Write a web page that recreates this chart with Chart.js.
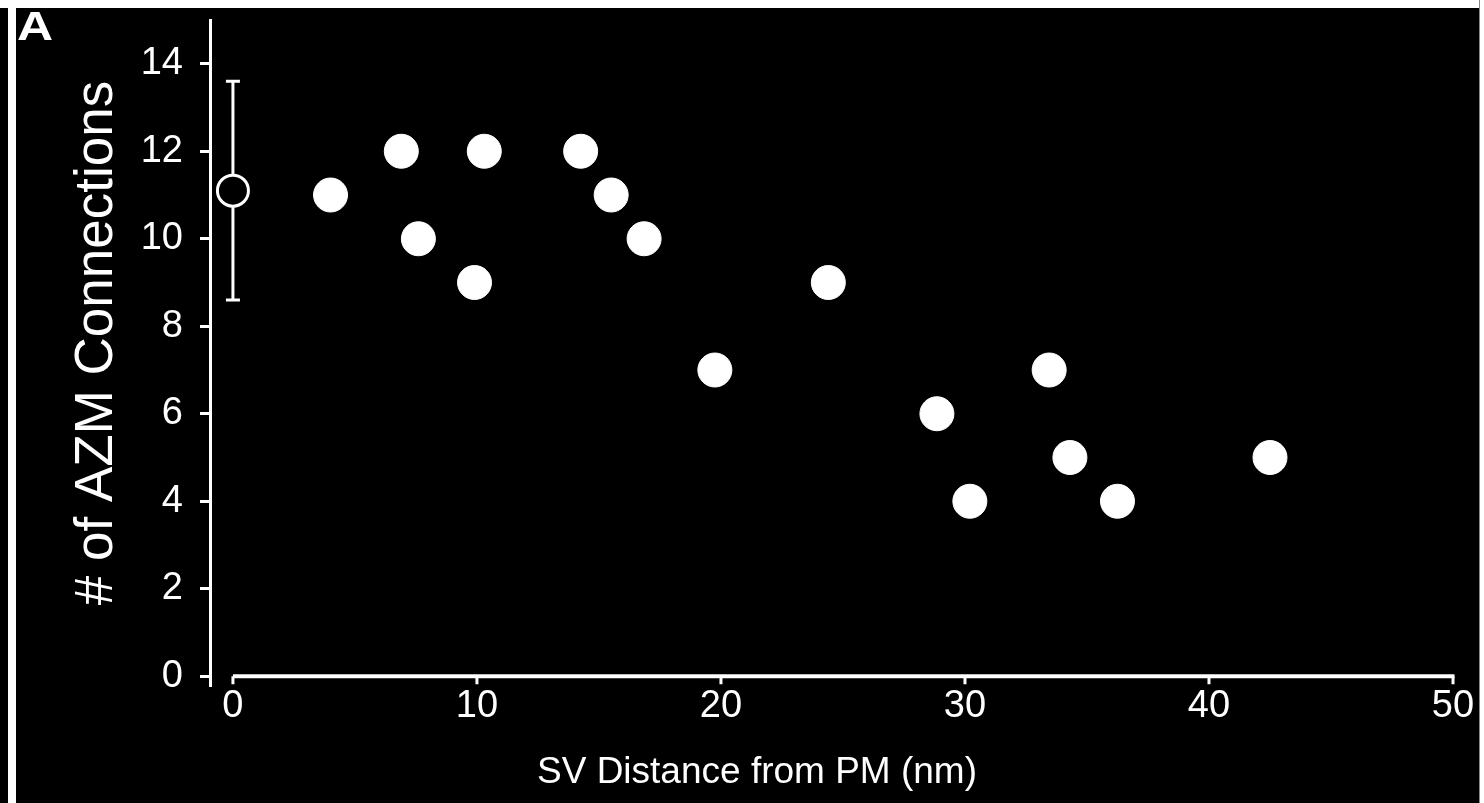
<!DOCTYPE html>
<html><head><meta charset="utf-8">
<script src="https://cdn.jsdelivr.net/npm/chart.js@4/dist/chart.umd.min.js"></script>
<style>
html,body{margin:0;padding:0;background:#000;width:1484px;height:803px;overflow:hidden}
#wrap{position:absolute;left:0;top:0;width:1484px;height:803px}
.strip{position:absolute;background:#fff;z-index:2}
#panel{position:absolute;left:17px;top:5px;font:bold 41px 'Liberation Sans',Arial,sans-serif;color:#fff;line-height:42px;z-index:3;transform:scaleX(1.22);transform-origin:0 0}
</style></head><body>
<div id="wrap"><canvas id="c"></canvas></div>
<div class="strip" style="left:0;top:0;width:1484px;height:8px"></div>
<div class="strip" style="left:8px;top:0;width:8px;height:803px"></div>
<div class="strip" style="left:1480px;top:0;width:4px;height:803px;box-shadow:-1px 0 0 #888"></div>
<div id="panel">A</div>
<script>
// ---- data ----
const xTickValues = [0, 10, 20, 30, 40, 50];
const yTickValues = [0, 2, 4, 6, 8, 10, 12, 14];
const distX = [4.0, 6.9, 7.6, 9.9, 10.3, 14.25, 15.5, 16.85, 19.75, 24.4, 28.85, 30.2, 33.45, 34.3, 36.25, 42.5];
const connY = [11, 12, 10, 9, 12, 12, 11, 10, 7, 9, 6, 4, 7, 5, 4, 5];
const meanX = [0];
const meanY = [11.1];
const errUpper = [13.6];
const errLower = [8.6];
const xTitle = 'SV Distance from PM (nm)';
const yTitle = '# of AZM Connections';

const FAM = "'Liberation Sans', Arial, Helvetica, sans-serif";

const axesPlugin = {
  id: 'axesPlugin',
  beforeDatasetsDraw(chart) {
    const {ctx, scales: {x, y}} = chart;
    ctx.save();
    ctx.strokeStyle = '#fff';
    ctx.lineWidth = 3;
    for (let i = 0; i < meanX.length; i++) {
      const px = x.getPixelForValue(meanX[i]);
      const pu = y.getPixelForValue(errUpper[i]);
      const pl = y.getPixelForValue(errLower[i]);
      ctx.beginPath();
      ctx.moveTo(px, pu); ctx.lineTo(px, pl);
      ctx.moveTo(px - 7, pu); ctx.lineTo(px + 7, pu);
      ctx.moveTo(px - 7, pl); ctx.lineTo(px + 7, pl);
      ctx.stroke();
    }
    ctx.restore();
  },
  afterDraw(chart) {
    const {ctx, scales: {x, y}, chartArea} = chart;
    ctx.save();
    const y0 = y.getPixelForValue(0);
    const xa = x.getPixelForValue(xTickValues[0]);
    const xb = x.getPixelForValue(xTickValues[xTickValues.length - 1]);
    ctx.strokeStyle = '#fff';
    ctx.lineWidth = 4;
    ctx.beginPath();
    ctx.moveTo(xa, y0); ctx.lineTo(xb + 1.5, y0);
    ctx.stroke();
    ctx.lineWidth = 3;
    xTickValues.forEach(v => {
      const p = x.getPixelForValue(v);
      ctx.beginPath();
      ctx.moveTo(p, y0); ctx.lineTo(p, y0 + 8);
      ctx.stroke();
    });
    // axis titles
    ctx.fillStyle = '#fff';
    ctx.textAlign = 'center';
    ctx.textBaseline = 'middle';
    ctx.font = '37px ' + FAM;
    ctx.fillText(xTitle, chartArea.left + 547, 773);
    ctx.translate(97, 343);
    ctx.rotate(-Math.PI / 2);
    ctx.font = '53px ' + FAM;
    ctx.fillText(yTitle, 0, 0);
    ctx.restore();
  }
};

new Chart(document.getElementById('c'), {
  type: 'scatter',
  data: {
    datasets: [
      {
        data: distX.map((v, i) => ({x: v, y: connY[i]})),
        pointRadius: 17,
        pointHoverRadius: 17,
        backgroundColor: '#fff',
        borderColor: '#fff',
        borderWidth: 1,
        clip: false
      },
      {
        data: meanX.map((v, i) => ({x: v, y: meanY[i]})),
        pointRadius: 15.5,
        pointHoverRadius: 15.5,
        backgroundColor: '#000',
        borderColor: '#fff',
        borderWidth: 3,
        clip: false
      }
    ]
  },
  options: {
    responsive: true,
    maintainAspectRatio: false,
    animation: false,
    layout: {padding: {left: 0, top: 20, right: 31, bottom: 0}},
    plugins: {legend: {display: false}, tooltip: {enabled: false}},
    scales: {
      x: {
        type: 'linear', min: -0.94, max: 50,
        afterBuildTicks: s => { s.ticks = xTickValues.map(v => ({value: v})); },
        afterFit: s => { s.height = 118; s.paddingLeft = 0; s.paddingRight = 0; },
        border: {display: false},
        grid: {display: false, drawTicks: false},
        ticks: {color: '#fff', font: {size: 38, family: FAM}, padding: -1, maxRotation: 0}
      },
      y: {
        type: 'linear', min: -0.2, max: 15,
        afterBuildTicks: s => { s.ticks = yTickValues.map(v => ({value: v})); },
        afterFit: s => { s.width = 210; s.paddingTop = 0; s.paddingBottom = 0; },
        border: {display: true, color: '#fff', width: 3},
        grid: {display: true, drawOnChartArea: false, drawTicks: true, tickLength: 10, color: '#fff', lineWidth: 3},
        ticks: {color: '#fff', font: {size: 38, family: FAM}, padding: 17}
      }
    }
  },
  plugins: [axesPlugin]
});
</script>
</body></html>
